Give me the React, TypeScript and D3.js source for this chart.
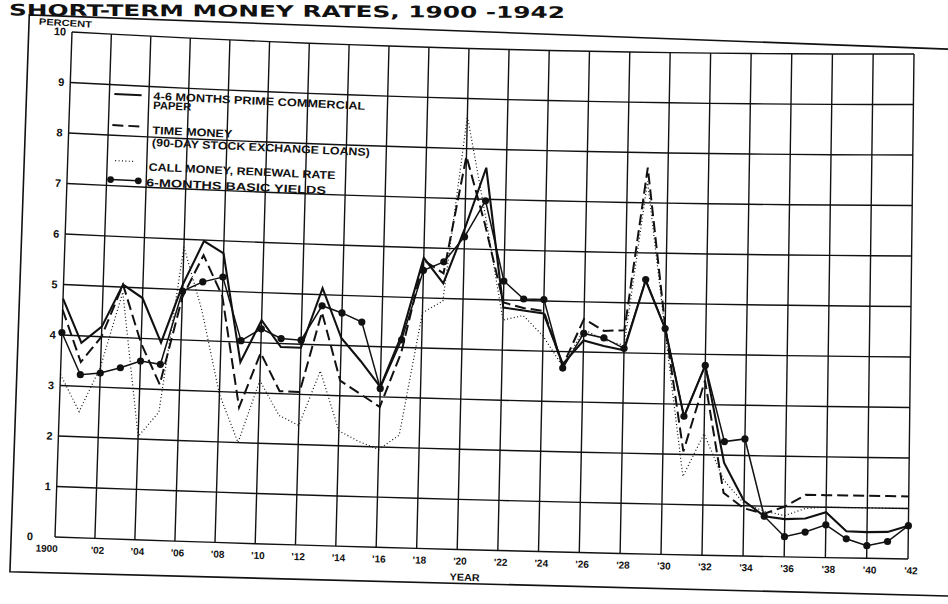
import { useEffect, useRef } from 'react';
import * as d3 from 'd3';

// Annual averages, 1900-1942
const years = [
  1900, 1901, 1902, 1903, 1904, 1905, 1906, 1907, 1908, 1909,
  1910, 1911, 1912, 1913, 1914, 1915, 1916, 1917, 1918, 1919,
  1920, 1921, 1922, 1923, 1924, 1925, 1926, 1927, 1928, 1929,
  1930, 1931, 1932, 1933, 1934, 1935, 1936, 1937, 1938, 1939,
  1940, 1941, 1942,
];

const commercialPaper = [
  4.72, 3.86, 4.2, 5.05, 4.8, 3.93, 5.1, 5.98, 5.75, 3.6,
  4.45, 3.93, 3.93, 5.13, 4.15, 3.7, 3.2, 4.25, 5.8, 5.3,
  6.4, 7.63, 4.85, 4.8, 4.75, 3.75, 4.23, 4.13, 4.05, 5.45,
  4.5, 2.75, 3.78, 1.85, 1.1, 0.8, 0.75, 0.77, 0.9, 0.53,
  0.52, 0.53, 0.66,
];

const timeMoney = [
  4.5, 3.48, 4.0, 5.05, 3.9, 3.1, 4.85, 5.7, 4.9, 2.7,
  3.8, 3.05, 3.05, 4.65, 3.3, 3.05, 2.8, 3.9, 5.75, 5.5,
  7.85, 6.5, 4.95, 4.85, 4.8, 3.72, 4.66, 4.43, 4.45, 7.7,
  4.55, 2.06, 3.48, 1.25, 0.95, 0.85, 1.0, 1.24, 1.24, 1.24,
  1.24, 1.24, 1.24,
];

const callMoney = [
  3.22, 2.5, 3.4, 4.9, 2.05, 2.55, 5.85, 4.6, 2.95, 2.0,
  3.25, 2.57, 2.38, 3.48, 2.3, 2.1, 1.95, 2.25, 4.7, 4.95,
  8.65, 6.7, 4.6, 4.7, 4.3, 3.7, 4.45, 4.25, 4.15, 7.43,
  4.45, 1.56, 2.42, 1.5, 1.05, 0.9, 0.82, 0.97, 1.0, 1.0,
  1.0, 1.0, 1.0,
];

const basicYields = [
  4.05, 3.23, 3.28, 3.4, 3.55, 3.5, 4.97, 5.17, 5.28, 4.03,
  4.28, 4.1, 4.08, 4.78, 4.65, 4.48, 3.17, 4.15, 5.55, 5.73,
  6.24, 6.97, 5.38, 5.03, 5.03, 3.67, 4.37, 4.29, 4.09, 5.47,
  4.5, 2.76, 3.78, 2.27, 2.33, 0.8, 0.4, 0.5, 0.65, 0.38,
  0.25, 0.34, 0.66,
];

const gridYears = [
  1900, 1902, 1904, 1906, 1908, 1910, 1912, 1914, 1916, 1918, 1920,
  1922, 1924, 1926, 1928, 1930, 1932, 1934, 1936, 1938, 1940, 1942,
];
const yearLabels = [
  '1900', "'02", "'04", "'06", "'08", "'10", "'12", "'14", "'16", "'18", "'20",
  "'22", "'24", "'26", "'28", "'30", "'32", "'34", "'36", "'38", "'40", "'42",
];
const percentTicks = [0, 1, 2, 3, 4, 5, 6, 7, 8, 9, 10];

const legendLabels = [
  ['4-6 MONTHS PRIME COMMERCIAL', 'PAPER'],
  ['TIME MONEY', '(90-DAY STOCK EXCHANGE LOANS)'],
  ['CALL MONEY, RENEWAL RATE'],
  ['6-MONTHS BASIC YIELDS'],
];

const title = 'SHORT-TERM MONEY RATES, 1900 -1942';

const INK = '#111';
const FONT = '"Liberation Sans", Arial, sans-serif';

export default function App() {
  const svgRef = useRef<SVGSVGElement>(null);

  useEffect(() => {
    if (!svgRef.current) return;
    const svg = d3.select(svgRef.current);
    svg.selectAll('*').remove();

    const width = 948;
    const height = 604;
    svg.attr('width', width).attr('height', height);

    svg.append('rect').attr('width', width).attr('height', height).attr('fill', '#fff');

    const x = d3.scaleLinear().domain([1900, 1942]).range([0, 1]);
    const y = d3.scaleLinear().domain([0, 10]).range([0, 1]);

    // the scanned sheet is skewed and a little bowed, so the unit square of
    // the plot is mapped onto the four grid corners of the picture
    const BL = [55, 537];
    const TL = [72, 32];
    const BR = [908, 559];
    const TR = [914, 54];
    const warp = (s: number, t: number): [number, number] => {
      const a = (1 - s) * (1 - t);
      const b = s * (1 - t);
      const c = (1 - s) * t;
      const d = s * t;
      const bow = 4 * s * (1 - s);
      return [
        a * BL[0] + b * BR[0] + c * TL[0] + d * TR[0] - 4 * bow,
        a * BL[1] + b * BR[1] + c * TL[1] + d * TR[1] + (2 + 4 * t) * bow,
      ];
    };
    const P = (yr: number, v: number) => warp(x(yr), y(v));
    const angleAt = (yr: number, v: number) => {
      const [x0, y0] = P(yr, v);
      const [x1, y1] = P(yr + 1, v);
      return (Math.atan2(y1 - y0, x1 - x0) * 180) / Math.PI;
    };

    const line = d3.line<[number, number]>()
      .x(d => P(d[0], d[1])[0])
      .y(d => P(d[0], d[1])[1]);

    const label = (
      g: d3.Selection<SVGGElement, unknown, null, undefined>,
      yr: number,
      v: number,
      str: string,
      size: number,
      anchor: string,
      length?: number,
    ) => {
      const [px, py] = P(yr, v);
      const t = g.append('text')
        .attr('x', px)
        .attr('y', py)
        .attr('transform', 'rotate(' + angleAt(yr, v) + ',' + px + ',' + py + ')')
        .attr('text-anchor', anchor)
        .attr('font-size', size)
        .text(str);
      if (length) t.attr('textLength', length).attr('lengthAdjust', 'spacingAndGlyphs');
      return t;
    };

    // Title, kept above the frame
    svg.append('text')
      .attr('x', 565)
      .attr('y', 18)
      .attr('text-anchor', 'end')
      .attr('transform', 'rotate(0.25,565,18)')
      .attr('font-family', '"DejaVu Sans", sans-serif')
      .attr('font-weight', 'bold')
      .attr('font-size', 16)
      .attr('fill', INK)
      .attr('textLength', 556)
      .attr('lengthAdjust', 'spacingAndGlyphs')
      .text(title);

    // Outer frame (its right side runs off the scan)
    const frame = [
      P(1944.5, 10.08), P(1897.8, 10.29), P(1897.8, -0.72), P(1944.5, -0.72),
    ];
    svg.append('path')
      .attr('d', 'M' + frame.map(p => p.join(',')).join('L'))
      .attr('fill', 'none')
      .attr('stroke', INK)
      .attr('stroke-width', 1.6);

    // Grid
    const grid = svg.append('g')
      .attr('fill', 'none')
      .attr('stroke', INK)
      .attr('stroke-width', 1.4);
    gridYears.forEach(yr => {
      grid.append('path').attr('d', line(percentTicks.map(v => [yr, v] as [number, number])));
    });
    percentTicks.forEach(v => {
      grid.append('path').attr('d', line(gridYears.map(yr => [yr, v] as [number, number])));
    });

    // Axis text
    const text = svg.append('g')
      .attr('font-family', FONT)
      .attr('font-weight', 'bold')
      .attr('fill', INK);

    percentTicks.forEach(v => {
      const yr = v === 0 ? 1898.9 : 1899.7;
      label(text, yr, v, String(v), 11, 'end').attr('dy', '0.36em');
    });
    gridYears.forEach((yr, i) => {
      label(text, i === 0 ? 1899.6 : yr + 0.15, -0.3, yearLabels[i], 10, 'middle');
    });
    label(text, 1898.3, 10.11, 'PERCENT', 9, 'start', 53);
    label(text, 1920.4, -0.62, 'YEAR', 10, 'middle', 30);

    // Series
    const pts = (values: number[]) => years.map((yr, i) => [yr, values[i]] as [number, number]);

    svg.append('path')
      .attr('d', line(pts(callMoney)))
      .attr('fill', 'none')
      .attr('stroke', INK)
      .attr('stroke-width', 1.2)
      .attr('stroke-dasharray', '1,2.4');

    svg.append('path')
      .attr('d', line(pts(timeMoney)))
      .attr('fill', 'none')
      .attr('stroke', INK)
      .attr('stroke-width', 2)
      .attr('stroke-dasharray', '11,5');

    svg.append('path')
      .attr('d', line(pts(commercialPaper)))
      .attr('fill', 'none')
      .attr('stroke', INK)
      .attr('stroke-width', 2.1)
      .attr('stroke-linejoin', 'miter');

    svg.append('path')
      .attr('d', line(pts(basicYields)))
      .attr('fill', 'none')
      .attr('stroke', INK)
      .attr('stroke-width', 1.5);

    svg.append('g')
      .selectAll('circle')
      .data(pts(basicYields))
      .join('circle')
      .attr('cx', d => P(d[0], d[1])[0])
      .attr('cy', d => P(d[0], d[1])[1])
      .attr('r', 3.6)
      .attr('fill', INK);

    // Legend
    const legend = svg.append('g');
    const sample = (y0: number, y1: number, v: number) =>
      line([[y0, v], [y1, v]] as [number, number][]);

    legend.append('path').attr('d', sample(1902.25, 1903.63, 8.82))
      .attr('stroke', INK).attr('stroke-width', 2);
    legend.append('path').attr('d', sample(1902.2, 1903.7, 8.2))
      .attr('stroke', INK).attr('stroke-width', 2).attr('stroke-dasharray', '11,5');
    legend.append('path').attr('d', sample(1902.4, 1903.4, 7.5))
      .attr('stroke', INK).attr('stroke-width', 1.2).attr('stroke-dasharray', '1,2.4');
    legend.append('path').attr('d', sample(1902.2, 1903.6, 7.12))
      .attr('stroke', INK).attr('stroke-width', 1.5);
    [1902.2, 1903.6].forEach(yr => {
      const [cx, cy] = P(yr, 7.12);
      legend.append('circle').attr('cx', cx).attr('cy', cy).attr('r', 3.4).attr('fill', INK);
    });

    const legendText = legend.append('g')
      .attr('font-family', FONT)
      .attr('font-weight', 'bold')
      .attr('fill', INK);
    label(legendText, 1904.23, 8.74, legendLabels[0][0], 11, 'start', 212);
    label(legendText, 1904.23, 8.56, legendLabels[0][1], 11, 'start', 38);
    label(legendText, 1904.23, 8.06, legendLabels[1][0], 11, 'start', 80);
    label(legendText, 1904.23, 7.82, legendLabels[1][1], 11, 'start', 218);
    label(legendText, 1904.1, 7.33, legendLabels[2][0], 11, 'start', 187);
    label(legendText, 1904.0, 7.02, legendLabels[3][0], 11, 'start', 180);
  }, []);

  return (
    <div style={{ position: 'absolute', left: 0, top: 0, width: 948, height: 604, overflow: 'hidden' }}>
      <svg ref={svgRef} style={{ display: 'block' }} />
    </div>
  );
}
